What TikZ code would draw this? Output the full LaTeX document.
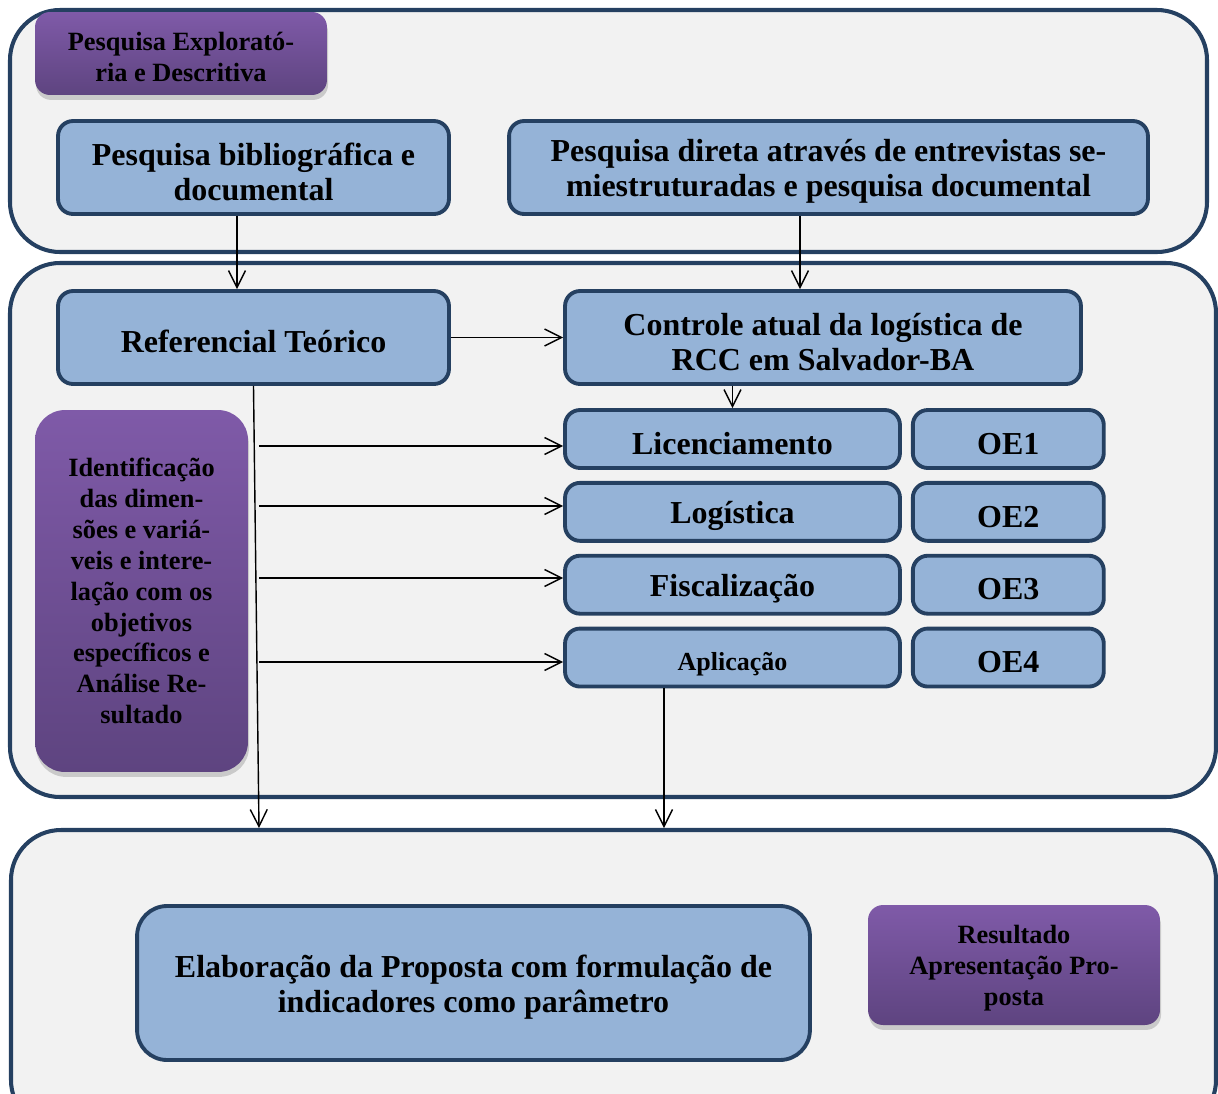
\documentclass[tikz,border=0pt]{standalone}
\usepackage{fontspec}
\setmainfont{Liberation Serif}
\usepackage{tikz}
\usetikzlibrary{arrows.meta, positioning, shadows}
\usepackage{xcolor}
\definecolor{panelgray}{HTML}{F2F2F2}
\definecolor{navyline}{HTML}{254061}
\definecolor{boxblue}{HTML}{95B3D7}
\definecolor{purpletop}{HTML}{7F5AA8}
\definecolor{purplebot}{HTML}{5E4480}
\newcommand{\boxlift}{\rule{0pt}{17.5pt}}
\newcommand{\taglift}{\rule{0pt}{14pt}}

\begin{document}
\begin{tikzpicture}[x=0.02cm, y=-0.02cm,
    panel/.style = {draw=navyline, fill=panelgray, line width=2.3pt, rounded corners=1cm},
    box/.style = {rectangle, draw=navyline, fill=boxblue, line width=2.2pt, rounded corners=0.3cm, align=center, font=\bfseries\fontsize{18.2}{19.9}\selectfont, inner sep=2pt},
    bar/.style = {box, minimum width=6.7cm, minimum height=1.16cm},
    oebox/.style = {box, minimum width=3.82cm, minimum height=1.16cm},
    tag/.style = {rectangle, top color=purpletop, bottom color=purplebot, rounded corners=0.3cm, align=center, font=\bfseries\fontsize{15}{17.6}\selectfont, inner sep=2pt, drop shadow={shadow xshift=0.6pt, shadow yshift=-2.8pt, opacity=0.35}},
    arrow/.style = {draw=black, line width=0.8pt, -{Straight Barb[length=3.4mm, width=3.4mm]}}
]
\useasboundingbox (0,0) rectangle (1218,1093);

% Background panels
\draw [panel] (10,10) rectangle (1207,252);
\draw [panel] (10,263) rectangle (1216,797);
\draw [panel] (11,830) rectangle (1216,1130);

% Stage 1
\node (explor) [tag, minimum width=5.84cm, minimum height=1.66cm, at={(181,53.5)}] {\taglift Pesquisa Explorató-\\ria e Descritiva};
\node (biblio) [box, minimum width=7.82cm, minimum height=1.86cm, at={(253.5,167.5)}] {\boxlift Pesquisa bibliográfica e\\documental};
\node (direta) [box, minimum width=12.78cm, minimum height=1.86cm, at={(828.5,167.5)}] {\boxlift Pesquisa direta através de entrevistas se-\\miestruturadas e pesquisa documental};

% Stage 2
\node (ref) [box, minimum width=7.82cm, minimum height=1.86cm, at={(253.5,337.5)}] {\boxlift Referencial Teórico};
\node (controle) [box, minimum width=10.32cm, minimum height=1.86cm, at={(823,337.5)}] {\boxlift Controle atual da logística de\\RCC em Salvador-BA};
\node (ident) [tag, rounded corners=0.6cm, minimum width=4.26cm, minimum height=7.24cm, at={(141.5,591)}] {Identificação\\das dimen-\\sões e variá-\\veis e intere-\\lação com os\\objetivos\\específicos e\\Análise Re-\\sultado};

\node (licen) [bar, at={(732.5,439)}] {\boxlift Licenciamento};
\node (logist) [bar, below=0.22cm of licen] {\boxlift Logística};
\node (fiscal) [bar, below=0.22cm of logist] {\boxlift Fiscalização};
\node (aplic) [bar, below=0.22cm of fiscal, font=\bfseries\fontsize{14.8}{17}\selectfont] {\boxlift Aplicação};

\node (oe1) [oebox, right=0.18cm of licen] {\boxlift OE1};
\node (oe2) [oebox, right=0.18cm of logist] {\boxlift OE2};
\node (oe3) [oebox, right=0.18cm of fiscal] {\boxlift OE3};
\node (oe4) [oebox, right=0.18cm of aplic] {\boxlift OE4};

% Stage 3
\node (elab) [box, rounded corners=0.6cm, minimum width=13.46cm, minimum height=3.08cm, at={(473.5,983)}] {\boxlift Elaboração da Proposta com formulação de\\indicadores como parâmetro};
\node (result) [tag, minimum width=5.84cm, minimum height=2.4cm, at={(1014,965)}] {\taglift Resultado\\Apresentação Pro-\\posta};

% Free ends and taps
\coordinate (drop1) at (259,828);
\coordinate (drop2) at (664,828);
\coordinate (tap1) at (259,446);
\coordinate (tap2) at (259,506);
\coordinate (tap3) at (259,578);
\coordinate (tap4) at (259,662);

% Connections
\draw [arrow] ([xshift=-0.33cm]biblio.south) -- ([xshift=-0.33cm]ref.north);
\draw [arrow] ([xshift=-0.57cm]direta.south) -- ([xshift=-0.57cm]direta.south |- controle.north);
\draw [arrow] (ref) -- (controle);
\draw [arrow] (controle.south -| licen.north) -- (licen.north);

\draw [arrow] (tap1) -- (tap1 -| licen.west);
\draw [arrow] (tap2) -- (tap2 -| logist.west);
\draw [arrow] (tap3) -- (tap3 -| fiscal.west);
\draw [arrow] (tap4) -- (tap4 -| aplic.west);

\draw [arrow] (ref.south) -- (drop1);
\draw [arrow] (aplic.south -| drop2) -- (drop2);

\end{tikzpicture}
\end{document}
